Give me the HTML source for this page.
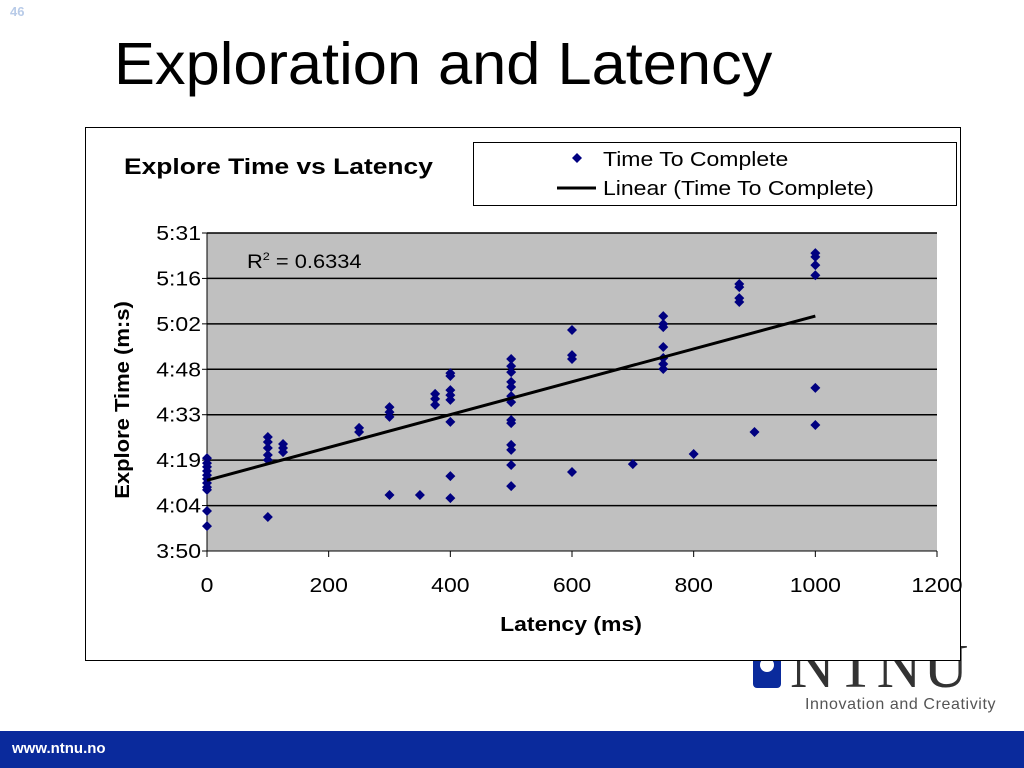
<!DOCTYPE html>
<html><head><meta charset="utf-8"><style>
body{margin:0;width:1024px;height:768px;background:#fff;position:relative;overflow:hidden;font-family:"Liberation Sans",sans-serif}
.abs{position:absolute}
</style></head><body>
<div class="abs" style="left:10px;top:4px;font-size:13px;font-weight:bold;color:#b8cbe8">46</div>
<div class="abs" style="left:114px;top:30px;font-size:59px;color:#000;transform:scaleX(1.04);transform-origin:left top;white-space:nowrap">Exploration and Latency</div>
<div class="abs" style="left:753px;top:652px;width:28px;height:36px;background:#0a2a9c;border-radius:4px"><div style="position:absolute;left:7px;top:6px;width:14px;height:14px;border-radius:50%;background:#fff"></div></div>
<div class="abs" style="left:790px;top:632px;font-family:'Liberation Serif',serif;font-size:62px;color:#333;letter-spacing:2px">NTNU</div>
<div class="abs" style="left:805px;top:696px;font-size:16px;color:#555;letter-spacing:0.6px">Innovation and Creativity</div>
<div class="abs" style="left:0;top:731px;width:1024px;height:37px;background:#0a2a9c"></div>
<div class="abs" style="left:12px;top:740px;font-size:15px;font-weight:bold;color:#fff">www.ntnu.no</div>
<svg class="abs" style="left:0;top:0" width="1024" height="768">
<rect x="85.5" y="127.5" width="875" height="533" fill="#fff" stroke="#000"/>
<text transform="translate(124,174) scale(1.2,1)" font-size="22" font-weight="bold">Explore Time vs Latency</text>
<g>
<rect x="473.5" y="142.5" width="483" height="63" fill="#fff" stroke="#000"/>
<path d="M577 153l5 5-5 5-5-5z" fill="#000080"/>
<text transform="translate(603,166) scale(1.15,1)" font-size="20">Time To Complete</text>
<line x1="557" y1="188" x2="596" y2="188" stroke="#000" stroke-width="3"/>
<text transform="translate(603,195) scale(1.15,1)" font-size="20">Linear (Time To Complete)</text>
</g>
<rect x="207" y="233" width="730" height="318" fill="#c0c0c0"/>
<g id="grid"></g><g id="axes"></g><g id="marks"></g>
<text transform="translate(247,268) scale(1.15,1)" font-size="19">R<tspan font-size="11" dy="-8">2</tspan><tspan dy="8"> = 0.6334</tspan></text>
<text x="0" y="0" font-size="20" font-weight="bold" transform="translate(129,400) rotate(-90) scale(1.1,1)" text-anchor="middle">Explore Time (m:s)</text>
<text font-size="20" font-weight="bold" transform="translate(571,631) scale(1.15,1)" text-anchor="middle">Latency (ms)</text>
</svg>
<script>
const yTickLabels=["3:50","4:04","4:19","4:33","4:48","5:02","5:16","5:31"];
const xTickLabels=["0","200","400","600","800","1000","1200"];
const latency=[0,0,0,0,0,0,0,0,0,0,0,100,100,100,100,100,100,125,125,125,250,250,300,300,300,300,350,375,375,375,400,400,400,400,400,400,400,400,500,500,500,500,500,500,500,500,500,500,500,500,500,600,600,600,600,700,750,750,750,750,750,750,750,800,875,875,875,875,900,1000,1000,1000,1000,1000,1000];
const timeSec=[259.5,257.9,256.7,255.4,254.1,252.9,251.6,250.3,249.4,242.7,237.9,240.8,266.2,264.6,262.7,260.5,258.9,264.0,262.7,261.4,269.1,267.8,275.7,274.1,272.6,247.8,247.8,279.9,278.3,276.4,286.5,285.6,281.1,279.5,278.0,271.0,253.8,246.8,291.0,288.7,286.8,283.7,282.1,279.2,277.3,271.6,270.6,263.7,262.1,257.3,250.6,300.2,292.2,291.0,255.1,257.6,304.6,302.1,301.1,294.8,291.3,289.4,287.8,260.8,314.8,313.8,310.3,309.1,267.8,324.6,323.4,320.8,317.6,281.8,270.0];
const X0=207,X1=937,Y0=551,Y1=233,xmin=0,xmax=1200,ymin=230,ymax=331;
const sx=v=>X0+(v-xmin)/(xmax-xmin)*(X1-X0);
const sy=v=>Y0-(v-ymin)/(ymax-ymin)*(Y0-Y1);
const NS="http://www.w3.org/2000/svg";
function mk(t,a,p){const e=document.createElementNS(NS,t);for(const k in a)e.setAttribute(k,a[k]);p.appendChild(e);return e;}
const grid=document.getElementById('grid'),axes=document.getElementById('axes'),marks=document.getElementById('marks');
yTickLabels.forEach((l,i)=>{
  const y=Y0-i*(Y0-Y1)/(yTickLabels.length-1);
  if(i>0){const g=mk('line',{x1:X0,x2:X1,y1:y,y2:y,stroke:'#000','stroke-width':1.5},grid);
  
  }
  mk('line',{x1:X0-5,x2:X0,y1:y,y2:y,stroke:'#000'},axes);
  const t=mk('text',{transform:`translate(${X0-6},${y+7}) scale(1.15,1)`,'font-size':20,'text-anchor':'end'},axes);t.textContent=l;
  
  
});
xTickLabels.forEach((l,i)=>{
  const x=sx(+l);
  mk('line',{x1:x,x2:x,y1:Y0,y2:Y0+6,stroke:'#000'},axes);
  const t=mk('text',{transform:`translate(${x},592) scale(1.15,1)`,'font-size':20,'text-anchor':'middle'},axes);t.textContent=l;
  
  
});
mk('line',{x1:X0,x2:X1,y1:Y0,y2:Y0,stroke:'#000'},axes);
mk('line',{x1:X0,x2:X0,y1:Y1,y2:Y0,stroke:'#000'},axes);
const n=latency.length;let mx=0,my=0;latency.forEach((v,i)=>{mx+=v;my+=timeSec[i]});mx/=n;my/=n;
let sxy=0,sxx=0;latency.forEach((v,i)=>{sxy+=(v-mx)*(timeSec[i]-my);sxx+=(v-mx)*(v-mx)});
const b=sxy/sxx,a=my-b*mx;const lmin=Math.min(...latency),lmax=Math.max(...latency);
latency.forEach((v,i)=>{
  const x=sx(v),y=sy(timeSec[i]);
  const p=mk('path',{d:`M${x} ${y-5}l5 5-5 5-5-5z`,fill:'#000080'},marks);
  
  
});
const tl=mk('line',{x1:sx(lmin),y1:sy(a+b*lmin)-2,x2:sx(lmax),y2:sy(a+b*lmax)-2,stroke:'#000','stroke-width':3},marks);


</script>
</body></html>
